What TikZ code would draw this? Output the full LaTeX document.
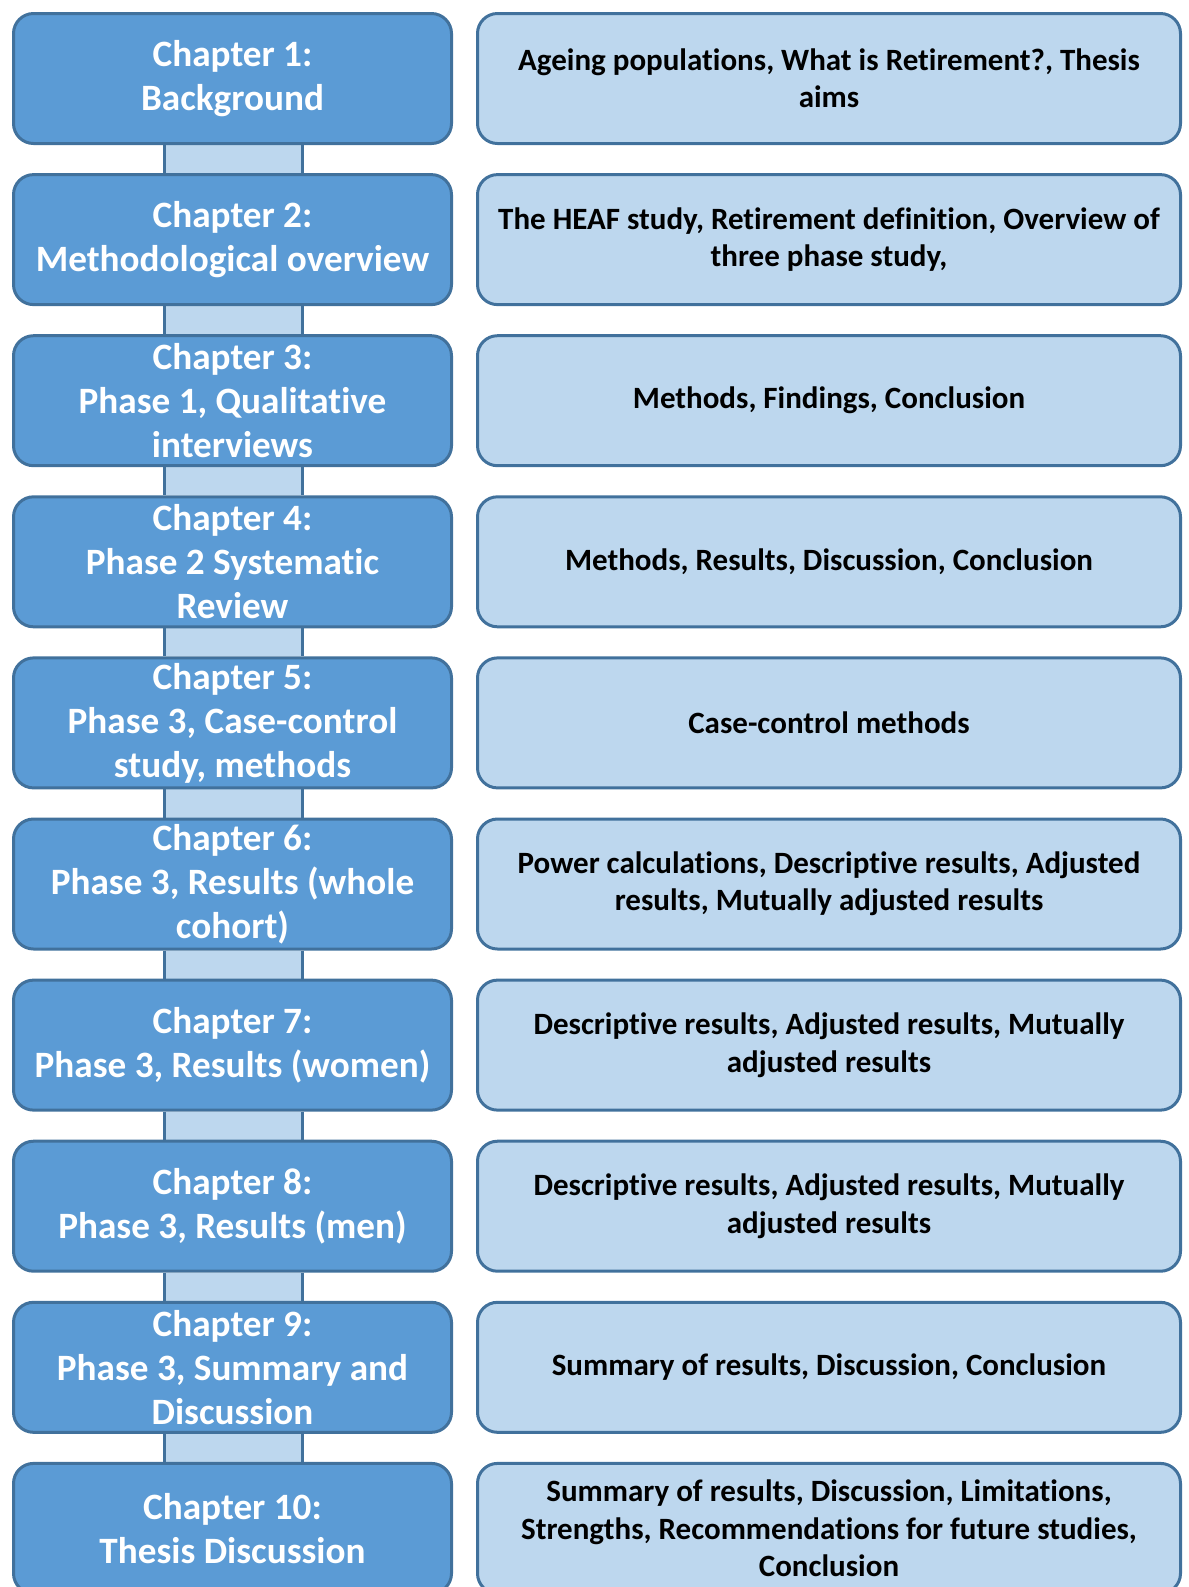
\documentclass[tikz,border=0pt]{standalone}
\usepackage{fontspec}
\setmainfont{Carlito}[Ligatures={NoCommon}]
\usetikzlibrary{backgrounds}
\definecolor{darkfill}{HTML}{5B9BD5}
\definecolor{lightfill}{HTML}{BDD7EE}
\definecolor{edgecol}{HTML}{41719C}
\begin{document}
\begin{tikzpicture}[x=0.5pt,y=-0.5pt,
  chap/.style={draw=edgecol, line width=1.5pt, fill=darkfill, rounded corners=10pt,
    minimum width=219pt, minimum height=65pt, text=white, align=center,
    font=\bfseries\fontsize{18.6}{22}\selectfont, inner sep=0pt},
  info/.style={draw=edgecol, line width=1.5pt, fill=lightfill, rounded corners=10pt,
    minimum width=351.5pt, minimum height=65pt, text=black, align=center,
    font=\bfseries\fontsize{15.5}{18.7}\selectfont, inner sep=0pt},
  linkfill/.style={fill=lightfill},
  linkside/.style={draw=edgecol, line width=1.5pt}]
\useasboundingbox (0,0) rectangle (1189,1587);
\clip (0,0) rectangle (1189,1587);
\coordinate (cl) at (164.5,0);
\coordinate (cr) at (302.5,0);

\node[chap] (L1) at (232.5,78.5) {Chapter 1:\\Background};
\node[info] (R1) at (829,78.5) {Ageing populations, What is Retirement?, Thesis\\aims};
\node[chap] (L2) at (232.5,239.6) {Chapter 2:\\Methodological overview};
\node[info] (R2) at (829,239.6) {The HEAF study, Retirement definition, Overview of\\three phase study,};
\node[chap] (L3) at (232.5,400.7) {Chapter 3:\\Phase 1, Qualitative\\interviews};
\node[info] (R3) at (829,400.7) {Methods, Findings, Conclusion};
\node[chap] (L4) at (232.5,561.8) {Chapter 4:\\Phase 2 Systematic\\Review};
\node[info] (R4) at (829,561.8) {Methods, Results, Discussion, Conclusion};
\node[chap] (L5) at (232.5,722.9) {Chapter 5:\\Phase 3, Case-control\\study, methods};
\node[info] (R5) at (829,722.9) {Case-control methods};
\node[chap] (L6) at (232.5,884.0) {Chapter 6:\\Phase 3, Results (whole\\cohort)};
\node[info] (R6) at (829,884.0) {Power calculations, Descriptive results, Adjusted\\results, Mutually adjusted results};
\node[chap] (L7) at (232.5,1045.1) {Chapter 7:\\Phase 3, Results (women)};
\node[info] (R7) at (829,1045.1) {Descriptive results, Adjusted results, Mutually\\adjusted results};
\node[chap] (L8) at (232.5,1206.2) {Chapter 8:\\Phase 3, Results (men)};
\node[info] (R8) at (829,1206.2) {Descriptive results, Adjusted results, Mutually\\adjusted results};
\node[chap] (L9) at (232.5,1367.3) {Chapter 9:\\Phase 3, Summary and\\Discussion};
\node[info] (R9) at (829,1367.3) {Summary of results, Discussion, Conclusion};
\node[chap] (L10) at (232.5,1528.4) {Chapter 10:\\Thesis Discussion};
\node[info] (R10) at (829,1528.4) {Summary of results, Discussion, Limitations,\\Strengths, Recommendations for future studies,\\Conclusion};

\begin{scope}[on background layer]
\foreach \a/\b in {L1/L2,L2/L3,L3/L4,L4/L5,L5/L6,L6/L7,L7/L8,L8/L9,L9/L10}{
  \fill[linkfill] (\a.south -| cl) rectangle (\b.north -| cr);
  \draw[linkside] (\a.south -| cl) -- (\b.north -| cl);
  \draw[linkside] (\a.south -| cr) -- (\b.north -| cr);
}
\end{scope}
\end{tikzpicture}
\end{document}
